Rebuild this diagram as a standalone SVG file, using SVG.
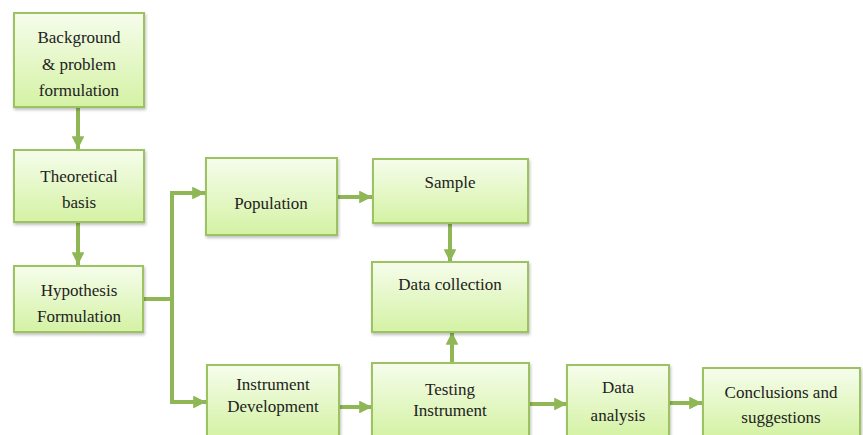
<svg xmlns="http://www.w3.org/2000/svg" width="863" height="435" viewBox="0 0 863 435">
<defs>
<linearGradient id="g" x1="0" y1="0" x2="0" y2="1">
<stop offset="0" stop-color="#f6fdec"/>
<stop offset="1" stop-color="#d4f2a4"/>
</linearGradient>
<filter id="sh" x="-10%" y="-10%" width="130%" height="130%">
<feGaussianBlur in="SourceAlpha" stdDeviation="1.5"/>
<feOffset dx="1" dy="2" result="b"/>
<feComponentTransfer><feFuncA type="linear" slope="0.25"/></feComponentTransfer>
<feMerge><feMergeNode/><feMergeNode in="SourceGraphic"/></feMerge>
</filter>
<marker id="ah" viewBox="0 0 10 10" refX="10" refY="5" markerWidth="3.2" markerHeight="3.2" markerUnits="strokeWidth" orient="auto">
<path d="M0,0 L10,5 L0,10 z" fill="#8fb756"/>
</marker>
</defs>
<style>
.box{fill:url(#g);stroke:#9cc262;stroke-width:2;filter:url(#sh)}
.t{font-family:"Liberation Serif","Times New Roman",serif;font-size:17px;fill:#222;text-anchor:middle}
.c{fill:none;stroke:#8fb756;stroke-width:4}
</style>
<rect width="863" height="435" fill="#ffffff"/>
<g id="connectors">
<line class="c" x1="78" y1="107" x2="78" y2="149" marker-end="url(#ah)"/>
<line class="c" x1="78" y1="222" x2="78" y2="265" marker-end="url(#ah)"/>
<polyline class="c" points="143,299 172,299"/>
<polyline class="c" points="172,402 172,193 205,193" marker-end="url(#ah)"/>
<polyline class="c" points="172,300 172,402 206,402" marker-end="url(#ah)"/>
<line class="c" x1="337" y1="197" x2="372" y2="197" marker-end="url(#ah)"/>
<line class="c" x1="450" y1="223" x2="450" y2="262" marker-end="url(#ah)"/>
<line class="c" x1="452" y1="363" x2="452" y2="332" marker-end="url(#ah)"/>
<line class="c" x1="339" y1="407" x2="372" y2="407" marker-end="url(#ah)"/>
<line class="c" x1="529" y1="404" x2="567" y2="404" marker-end="url(#ah)"/>
<line class="c" x1="669" y1="403" x2="702" y2="403" marker-end="url(#ah)"/>
</g>
<g id="background">
<rect class="box" x="14" y="13" width="130" height="94"/>
<text class="t" x="79" y="43">Background</text>
<text class="t" x="79" y="70">&amp; problem</text>
<text class="t" x="79" y="96">formulation</text>
</g>
<g id="theoretical">
<rect class="box" x="14" y="150" width="130" height="72"/>
<text class="t" x="79" y="182">Theoretical</text>
<text class="t" x="79" y="208">basis</text>
</g>
<g id="hypothesis">
<rect class="box" x="14" y="266" width="129" height="66"/>
<text class="t" x="79" y="296">Hypothesis</text>
<text class="t" x="79" y="322">Formulation</text>
</g>
<g id="population">
<rect class="box" x="206" y="158" width="131" height="77"/>
<text class="t" x="271" y="209">Population</text>
</g>
<g id="sample">
<rect class="box" x="373" y="159" width="155" height="64"/>
<text class="t" x="450" y="188">Sample</text>
</g>
<g id="data-collection">
<rect class="box" x="372" y="262" width="156" height="70"/>
<text class="t" x="450" y="290">Data collection</text>
</g>
<g id="instrument-development">
<rect class="box" x="207" y="365" width="132" height="72"/>
<text class="t" x="273" y="390">Instrument</text>
<text class="t" x="273" y="412">Development</text>
</g>
<g id="testing-instrument">
<rect class="box" x="372" y="363" width="157" height="74"/>
<text class="t" x="450" y="395">Testing</text>
<text class="t" x="450" y="416">Instrument</text>
</g>
<g id="data-analysis">
<rect class="box" x="567" y="365" width="102" height="72"/>
<text class="t" x="618" y="393">Data</text>
<text class="t" x="618" y="421">analysis</text>
</g>
<g id="conclusions">
<rect class="box" x="703" y="368" width="157" height="69"/>
<text class="t" x="781" y="398">Conclusions and</text>
<text class="t" x="781" y="423">suggestions</text>
</g>
</svg>
